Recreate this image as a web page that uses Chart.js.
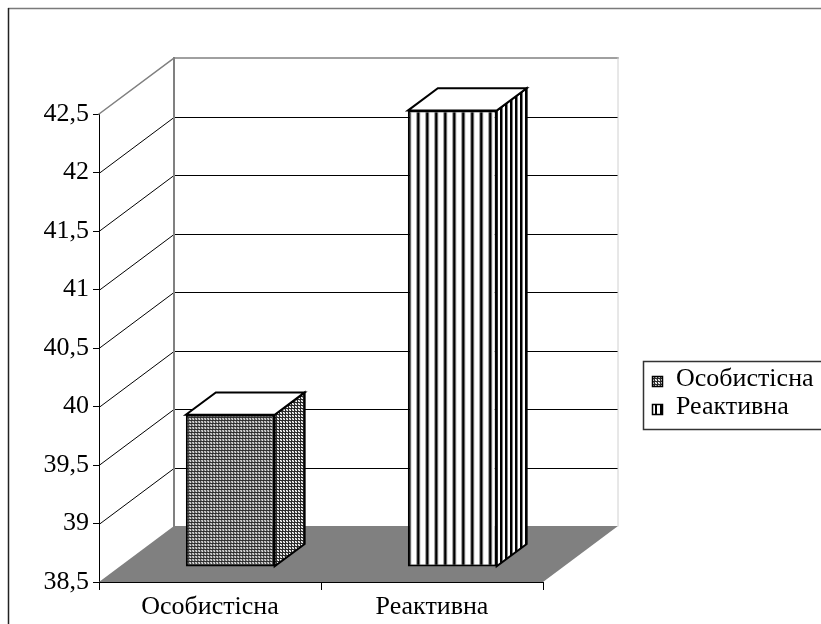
<!DOCTYPE html>
<html>
<head>
<meta charset="utf-8">
<script src="https://cdn.jsdelivr.net/npm/chart.js@4.4.1/dist/chart.umd.min.js"></script>
<style>
  html, body { margin: 0; padding: 0; background: #fff; }
  canvas { display: block; }
</style>
</head>
<body>
<canvas id="c" width="821" height="624"></canvas>
<script>
// ---- data ----
const categories = ['Особистісна', 'Реактивна'];
const values = [39.8, 42.4];
const axisMin = 38.5;
const axisMax = 42.5;
const axisStep = 0.5;

// ---- 3D box geometry (oblique projection) ----
const DEPTH_X = 75;     // horizontal shift of the back wall
const DEPTH_Y = 56;     // vertical shift of the back wall
const BAR_Z0 = 0.27;    // depth of the bar front face (0 = front, 1 = back wall)
const BAR_Z1 = 0.67;    // depth of the bar back face

const FONT = { family: "'Liberation Serif', 'Times New Roman', serif", size: 26 };

const canvas = document.getElementById('c');
const ctx0 = canvas.getContext('2d');

function tile(w, h, paint) {
  const c = document.createElement('canvas');
  c.width = w; c.height = h;
  paint(c.getContext('2d'));
  return ctx0.createPattern(c, 'repeat');
}

// fine dotted grid fill
const dottedFill = tile(3, 3, g => {
  g.fillStyle = '#a8a8a8'; g.fillRect(0, 0, 3, 3);
  g.fillStyle = '#2a2a2a'; g.fillRect(0, 0, 3, 1); g.fillRect(0, 0, 1, 3);
  g.fillStyle = '#ffffff'; g.fillRect(1, 1, 1, 1); g.fillRect(2, 2, 1, 1);
});
// vertical stripes for the front face
const stripeFill = tile(9, 1, g => {
  g.fillStyle = '#ffffff'; g.fillRect(0, 0, 9, 1);
  g.fillStyle = '#8a8a8a'; g.fillRect(0, 0, 1, 1); g.fillRect(3, 0, 1, 1);
  g.fillStyle = '#000000'; g.fillRect(1, 0, 2, 1);
});
// denser stripes for the side face
const stripeSideFill = tile(5, 1, g => {
  g.fillStyle = '#ffffff'; g.fillRect(0, 0, 5, 1);
  g.fillStyle = '#000000'; g.fillRect(0, 0, 2, 1);
  g.fillStyle = '#808080'; g.fillRect(2, 0, 1, 1);
});
// small legend swatch of the striped fill
const stripeKeyFill = tile(5, 1, g => {
  g.fillStyle = '#ffffff'; g.fillRect(0, 0, 5, 1);
  g.fillStyle = '#000000'; g.fillRect(0, 0, 2, 1);
});

const frontFills = [dottedFill, stripeFill];
const sideFills = [dottedFill, stripeSideFill];
const keyFills = [dottedFill, stripeKeyFill];

function fmt(v) {
  return (Math.round(v * 10) / 10).toString().replace('.', ',');
}

function line(ctx, x1, y1, x2, y2, color, w) {
  ctx.beginPath();
  ctx.moveTo(x1, y1);
  ctx.lineTo(x2, y2);
  ctx.strokeStyle = color;
  ctx.lineWidth = w;
  ctx.stroke();
}

function poly(ctx, pts, fill, stroke, w) {
  ctx.beginPath();
  ctx.moveTo(pts[0][0], pts[0][1]);
  for (let i = 1; i < pts.length; i++) ctx.lineTo(pts[i][0], pts[i][1]);
  ctx.closePath();
  if (fill) { ctx.fillStyle = fill; ctx.fill(); }
  if (stroke) { ctx.strokeStyle = stroke; ctx.lineWidth = w; ctx.lineJoin = 'miter'; ctx.stroke(); }
}

const box3d = {
  id: 'box3d',
  beforeDatasetsDraw(chart) {
    const { ctx, chartArea: a, scales: { y } } = chart;
    const top = y.getPixelForValue(axisMax);
    const bottom = y.getPixelForValue(axisMin);
    const L = a.left, R = a.right;
    ctx.save();
    // floor
    poly(ctx, [[L, bottom], [R, bottom], [R + DEPTH_X, bottom - DEPTH_Y], [L + DEPTH_X, bottom - DEPTH_Y]], '#808080');
    // gridlines on the back wall and the side wall
    y.ticks.forEach(t => {
      const v = t.value;
      if (v <= axisMin + 1e-9 || v >= axisMax - 1e-9) return;
      const py = Math.round(y.getPixelForValue(v)) + 0.5;
      line(ctx, L + DEPTH_X, py - DEPTH_Y, R + DEPTH_X, py - DEPTH_Y, '#000', 1);
      line(ctx, L, py, L + DEPTH_X, py - DEPTH_Y, '#000', 1);
    });
    // wall edges
    ctx.lineCap = 'square';
    line(ctx, L, top, L + DEPTH_X, top - DEPTH_Y, '#808080', 1.5);
    line(ctx, L + DEPTH_X, top - DEPTH_Y, R + DEPTH_X, top - DEPTH_Y, '#808080', 1.5);
    line(ctx, L + DEPTH_X, top - DEPTH_Y, L + DEPTH_X, bottom - DEPTH_Y, '#808080', 2);
    line(ctx, R + DEPTH_X, top - DEPTH_Y, R + DEPTH_X, bottom - DEPTH_Y, '#d0d0d0', 1);
    ctx.restore();
    // bars are drawn by the library at the depth of their front face
    ctx.save();
    ctx.translate(BAR_Z0 * DEPTH_X, -BAR_Z0 * DEPTH_Y);
  },
  afterDatasetsDraw(chart) {
    const { ctx } = chart;
    ctx.restore();
    const meta = chart.getDatasetMeta(0);
    const fx = BAR_Z0 * DEPTH_X, fy = -BAR_Z0 * DEPTH_Y;
    const bx = BAR_Z1 * DEPTH_X, by = -BAR_Z1 * DEPTH_Y;
    ctx.save();
    meta.data.forEach((el, i) => {
      const p = el.getProps(['x', 'y', 'base', 'width'], true);
      const xl = p.x - p.width / 2, xr = p.x + p.width / 2;
      const yt = p.y, yb = p.base;
      // side face
      poly(ctx, [[xr + fx, yt + fy], [xr + bx, yt + by], [xr + bx, yb + by], [xr + fx, yb + fy]],
        sideFills[i], '#000', 2);
      // top face
      poly(ctx, [[xl + fx, yt + fy], [xr + fx, yt + fy], [xr + bx, yt + by], [xl + bx, yt + by]],
        '#ffffff', '#000', 2);
    });
    ctx.restore();
  },
  afterDraw(chart) {
    const { ctx } = chart;
    ctx.save();
    // chart frame
    line(ctx, 8, 8.5, 830, 8.5, '#7a7a7a', 1.5);
    line(ctx, 8.5, 8, 8.5, 640, '#222', 1.5);
    // legend
    ctx.strokeStyle = '#333';
    ctx.lineWidth = 1.5;
    ctx.strokeRect(643.5, 361.5, 200, 68);
    ctx.font = `${FONT.size}px ${FONT.family}`;
    ctx.textBaseline = 'middle';
    ctx.textAlign = 'left';
    const rows = [381, 409];
    categories.forEach((name, i) => {
      const cy = rows[i];
      ctx.fillStyle = keyFills[i];
      ctx.fillRect(652, cy - 5, 11, 11);
      ctx.strokeStyle = '#000';
      ctx.lineWidth = 1.5;
      ctx.strokeRect(652.5, cy - 4.5, 10, 10);
      ctx.fillStyle = '#000';
      ctx.fillText(name, 676, cy - 2);
    });
    ctx.restore();
  }
};

new Chart(canvas, {
  type: 'bar',
  data: {
    labels: categories,
    datasets: [{
      data: values,
      base: axisMin,
      backgroundColor: frontFills,
      borderColor: '#000',
      borderWidth: 2,
      borderSkipped: false,
      barPercentage: 0.4,
      categoryPercentage: 1,
      clip: false
    }]
  },
  options: {
    responsive: false,
    devicePixelRatio: 1,
    animation: false,
    layout: { padding: { top: 114, left: 0, right: 278, bottom: 0 } },
    plugins: { legend: { display: false }, tooltip: { enabled: false } },
    scales: {
      x: {
        z: 1,
        offset: true,
        ticks: { color: '#000', font: FONT, padding: 2, maxRotation: 0 },
        grid: { offset: true, drawOnChartArea: false, tickLength: 8, color: '#000' },
        border: { color: '#000', width: 1 },
        afterFit(s) { s.height = 42; }
      },
      y: {
        z: 1,
        min: axisMin,
        max: axisMax,
        ticks: { stepSize: axisStep, color: '#000', font: FONT, padding: 4, callback: v => fmt(v) },
        grid: { drawOnChartArea: false, tickLength: 6, color: '#000' },
        border: { color: '#000', width: 1 },
        afterFit(s) { s.width = 99; }
      }
    }
  },
  plugins: [box3d]
});
</script>
</body>
</html>
